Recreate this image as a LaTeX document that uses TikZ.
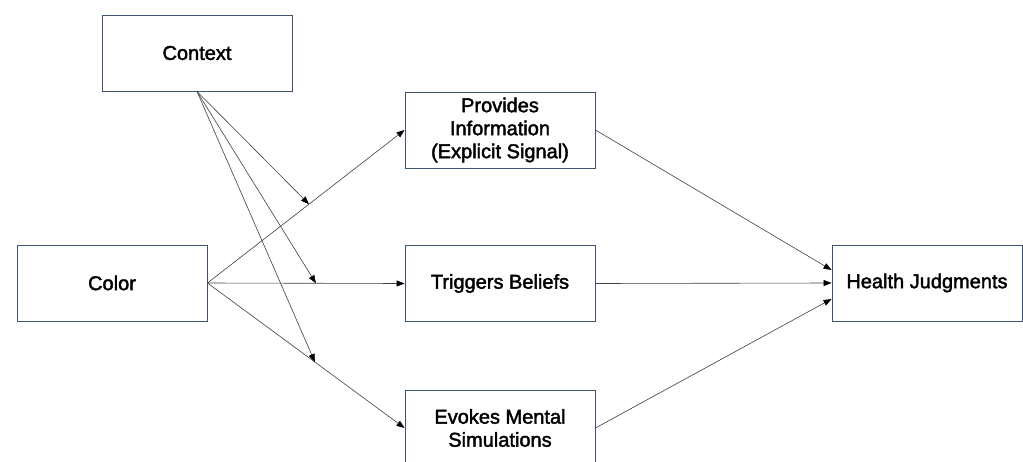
\documentclass[tikz,border=0pt]{standalone}
\usepackage{fontspec}
\setmainfont[FakeBold=2]{Liberation Sans}
\usetikzlibrary{arrows.meta,calc}
\begin{document}
\begin{tikzpicture}[x=1pt,y=-1pt,
  box/.style={draw=boxc,line width=0.9pt,minimum width=190pt,minimum height=76pt,inner sep=0pt,align=center,font=\fontsize{20}{23}\selectfont},
  conn/.style={draw=linec,line width=0.6pt,-{Triangle[length=8pt,width=6pt,fill=black,color=black]}}]
\definecolor{boxc}{HTML}{3E5472}
\definecolor{linec}{HTML}{404040}
\useasboundingbox[fill=white] (0,0) rectangle (1023,461);
\node[box] (ctx) at (197,53) {Context};
\node[box] (col) at (112,283) {Color};
\node[box] (prov) at (500,130) {Provides\\Information\\(Explicit Signal)};
\node[box] (trig) at (500,283.5) {Triggers Beliefs};
\node[box] (evk) at (500,428) {Evokes Mental\\Simulations};
\node[box] (hj) at (927,283) {Health Judgments};
\draw[conn] (col.east) -- (prov.west);
\draw[conn] (col.east) -- (trig.west);
\draw[conn] (col.east) -- (evk.west);
\coordinate (m1) at ($(col.east)!0.515!(prov.west)$);
\coordinate (m2) at ($(col.east)!0.55!(trig.west)$);
\coordinate (m3) at ($(col.east)!0.545!(evk.west)$);
\draw[conn] (ctx.south) -- (m1);
\draw[conn] (ctx.south) -- (m2);
\draw[conn] (ctx.south) -- (m3);
\coordinate (h1) at ($(hj.west)+(0,-13)$);
\coordinate (h3) at ($(hj.west)+(0,16)$);
\draw[conn] (prov.east) -- (h1);
\draw[conn] (trig.east) -- (hj.west);
\draw[conn] (evk.east) -- (h3);
\end{tikzpicture}
\end{document}
